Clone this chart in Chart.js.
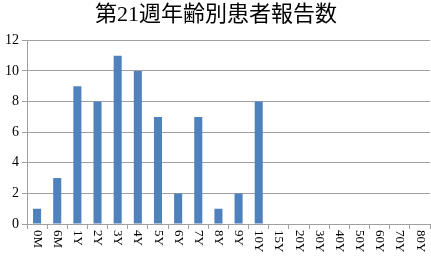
<!DOCTYPE html>
<html><head><meta charset="utf-8">
<script src="https://cdn.jsdelivr.net/npm/chart.js@4/dist/chart.umd.min.js"></script>
<style>html,body{margin:0;padding:0;background:#fff;}canvas{display:block;}</style>
</head><body>
<canvas id="c" width="431" height="261"></canvas>
<script>
const titleText = "第21週年齢別患者報告数";
const categories = ["0M","6M","1Y","2Y","3Y","4Y","5Y","6Y","7Y","8Y","9Y","10Y","15Y","20Y","30Y","40Y","50Y","60Y","70Y","80Y"];
const counts = [1,3,9,8,11,10,7,2,7,1,2,8,0,0,0,0,0,0,0,0];
const yTicks = [0,2,4,6,8,10,12];

const serif = "'Liberation Serif','DejaVu Serif','Noto Sans CJK JP',serif";

const xLabelPlugin = {
  id: 'xLabels',
  afterDraw(chart) {
    const sx = chart.scales.x;
    const ctx = chart.ctx;
    ctx.save();
    ctx.fillStyle = '#000';
    ctx.font = "13px " + serif;
    ctx.textAlign = 'left';
    ctx.textBaseline = 'middle';
    categories.forEach((lab, i) => {
      const px = sx.getPixelForValue(i);
      ctx.save();
      ctx.translate(px, sx.top + 6);
      ctx.rotate(Math.PI / 2);
      ctx.fillText(lab, 0, 0);
      ctx.restore();
    });
    ctx.restore();
  }
};

new Chart(document.getElementById('c'), {
  type: 'bar',
  data: {
    labels: categories,
    datasets: [{
      data: counts,
      backgroundColor: '#4f81bd',
      borderWidth: 0,
      barPercentage: 0.4,
      categoryPercentage: 1.0
    }]
  },
  options: {
    responsive: false,
    animation: false,
    devicePixelRatio: 1,
    layout: { padding: { left: 2, right: 1, top: 0, bottom: 32 } },
    plugins: {
      legend: { display: false },
      tooltip: { enabled: false },
      title: {
        display: true,
        text: titleText,
        color: '#000',
        font: { family: serif, size: 22, weight: 'normal' },
        padding: { top: 2, bottom: 12 }
      }
    },
    scales: {
      x: {
        offset: true,
        grid: { display: true, drawOnChartArea: false, drawTicks: true, tickLength: 5, color: '#a0a0a0', offset: true },
        border: { display: true, color: '#a0a0a0' },
        ticks: { display: false }
      },
      y: {
        min: 0, max: 12,
        afterBuildTicks(axis) { axis.ticks = yTicks.map(v => ({ value: v })); },
        grid: { color: '#a0a0a0', tickLength: 5, drawTicks: true },
        border: { display: true, color: '#a0a0a0' },
        ticks: { color: '#000', font: { family: serif, size: 14 }, padding: 3 }
      }
    }
  },
  plugins: [xLabelPlugin]
});
</script>
</body></html>
